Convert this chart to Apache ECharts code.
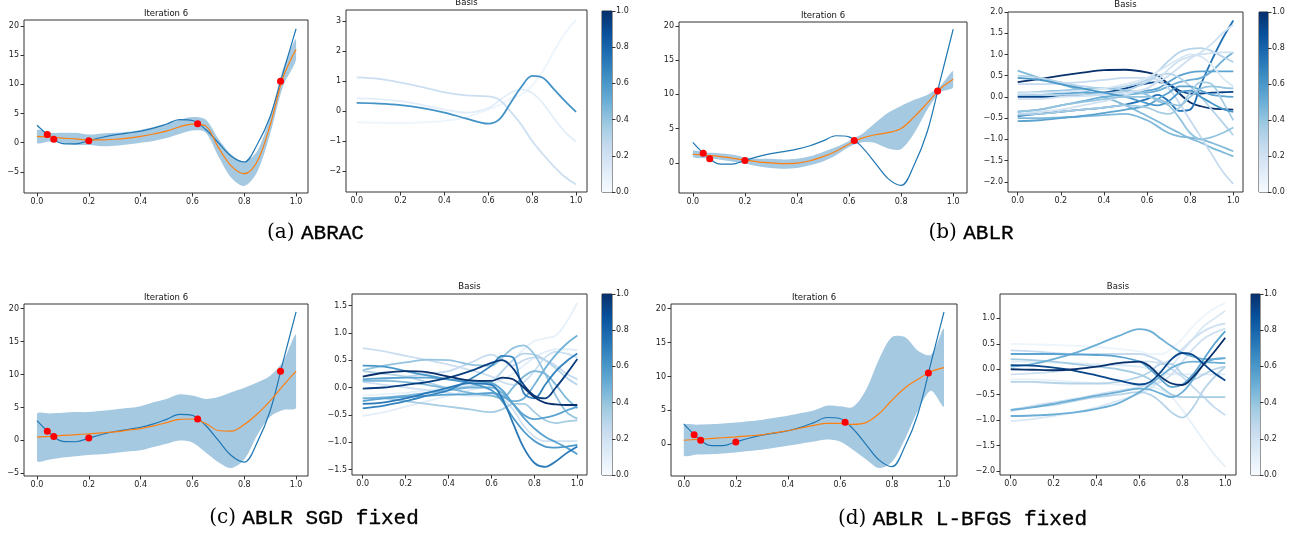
<!DOCTYPE html>
<html>
<head>
<meta charset="utf-8">
<script src="https://cdn.jsdelivr.net/npm/echarts@6/dist/echarts.min.js"></script>
<style>
  html, body { margin: 0; padding: 0; background: #fff; }
  #main { width: 1299px; height: 537px; }
</style>
</head>
<body>
<div id="main"></div>
<script>
// ---- data ----
const xFine = [0, 0.05, 0.1, 0.15, 0.2, 0.25, 0.3, 0.35, 0.4, 0.45, 0.5, 0.55, 0.6, 0.65, 0.7, 0.75, 0.8, 0.85, 0.9, 0.95, 1.0];
const truthY = [3.0, 1.1, -0.15, -0.2, 0.35, 0.9, 1.35, 1.65, 2.0, 2.5, 3.2, 3.95, 3.8, 2.3, 0.0, -2.3, -3.3, -0.3, 4.5, 12.0, 19.5];
const obsX = [0.04, 0.065, 0.2, 0.62, 0.94];
const obsY = [1.4, 0.6, 0.35, 3.25, 10.5];

// (a) ABRAC
const meanA = [1.1, 0.95, 0.8, 0.65, 0.5, 0.5, 0.6, 0.8, 1.1, 1.5, 2.0, 2.7, 3.2, 2.9, -0.8, -4.0, -5.3, -3.2, 3.0, 11.2, 16.0];
const lowA = [-0.05, 0.2, -0.1, -0.4, -0.4, -0.6, -0.5, -0.3, 0.0, 0.3, 0.8, 1.5, 2.1, 1.8, -2.3, -6.0, -7.4, -5.0, 1.5, 9.7, 14.2];
const highA = [2.2, 1.7, 1.7, 1.7, 1.4, 1.6, 1.7, 1.9, 2.2, 2.7, 3.2, 3.9, 4.4, 4.0, 0.7, -2.0, -3.2, -1.4, 4.5, 12.7, 17.8];
// (b) ABLR
const meanB = [1.25, 1.1, 0.95, 0.7, 0.4, 0.15, 0.0, -0.12, -0.05, 0.3, 0.9, 1.7, 2.75, 3.6, 4.1, 4.4, 5.0, 6.7, 8.7, 10.8, 12.2];
const lowB = [0.8, 0.7, 0.5, 0.2, -0.1, -0.5, -0.75, -0.85, -0.75, -0.35, 0.2, 1.1, 2.3, 3.0, 2.9, 2.1, 2.0, 4.3, 7.7, 10.3, 11.0];
const highB = [1.75, 1.5, 1.4, 1.2, 0.8, 0.6, 0.6, 0.5, 0.6, 0.95, 1.6, 2.3, 3.2, 4.2, 5.8, 7.3, 8.3, 9.2, 9.9, 11.2, 13.4];
// (c) ABLR SGD fixed
const meanC = [0.5, 0.62, 0.75, 0.88, 1.0, 1.15, 1.3, 1.55, 1.8, 2.2, 2.7, 3.2, 3.25, 2.6, 1.5, 1.4, 2.4, 4.0, 6.0, 8.3, 10.5];
const lowC = [-3.1, -2.9, -2.6, -2.4, -2.2, -2.1, -1.9, -1.7, -1.5, -1.0, -0.5, 0.0, -0.3, -1.8, -3.3, -4.2, -2.9, 0.8, 3.6, 4.6, 5.0];
const highC = [4.0, 4.1, 4.2, 4.3, 4.3, 4.5, 4.7, 4.9, 5.2, 5.8, 6.3, 7.0, 6.8, 6.3, 6.6, 7.3, 8.0, 8.8, 9.8, 12.0, 16.0];
// (d) ABLR L-BFGS fixed
const meanD = [0.6, 0.72, 0.85, 0.97, 1.1, 1.25, 1.4, 1.7, 2.0, 2.4, 2.8, 3.1, 3.1, 2.95, 3.2, 4.5, 6.5, 8.3, 9.6, 10.7, 11.3];
const lowD = [-1.6, -1.5, -1.45, -1.35, -1.2, -1.0, -0.8, -0.5, -0.2, 0.1, 0.4, 0.7, 0.4, -0.8, -2.2, -3.5, -2.6, 0.8, 5.0, 7.9, 5.6];
const highD = [2.8, 2.9, 2.95, 3.05, 3.2, 3.4, 3.6, 3.9, 4.2, 4.6, 5.0, 5.7, 5.6, 5.5, 8.0, 12.5, 15.8, 15.8, 13.8, 13.2, 17.0];

// basis functions, each with its colour weight
const xBasis = [0, 0.1, 0.2, 0.3, 0.4, 0.5, 0.6, 0.65, 0.7, 0.75, 0.8, 0.85, 0.9, 0.95, 1.0];
const weightsA = [0.05, 0.1, 0.22, 0.62];
const basisA = [
  [-0.38, -0.39, -0.4, -0.38, -0.33, -0.2, 0.05, 0.2, 0.4, 0.55, 0.85, 1.35, 2.0, 2.6, 3.05],
  [0.42, 0.4, 0.33, 0.2, 0.05, -0.05, 0.1, 0.35, 0.6, 0.72, 0.6, 0.25, -0.25, -0.7, -1.02],
  [1.12, 1.07, 0.95, 0.8, 0.62, 0.52, 0.49, 0.38, 0.0, -0.45, -1.0, -1.45, -1.85, -2.2, -2.45],
  [0.27, 0.25, 0.2, 0.1, -0.05, -0.25, -0.42, -0.28, 0.25, 0.8, 1.17, 1.1, 0.72, 0.33, -0.03]
];
const weightsB = [1.0, 0.92, 0.75, 0.45, 0.45, 0.5, 0.55, 0.3, 0.2, 0.25, 0.3, 0.55, 0.4, 0.15, 0.35, 0.2, 0.6, 0.4];
const basisB = [
  [0.35, 0.42, 0.5, 0.57, 0.63, 0.64, 0.58, 0.5, 0.3, 0.08, -0.13, -0.22, -0.27, -0.29, -0.3],
  [0.0, 0.0, 0.02, 0.05, 0.1, 0.2, 0.32, 0.35, 0.3, 0.15, 0.08, 0.08, 0.1, 0.11, 0.12],
  [-0.45, -0.4, -0.35, -0.3, -0.25, -0.18, -0.05, 0.05, -0.1, -0.33, -0.3, 0.3, 0.86, 1.37, 1.8],
  [0.62, 0.45, 0.3, 0.15, 0.0, -0.2, -0.45, -0.58, -0.72, -0.85, -0.98, -1.08, -1.2, -1.3, -1.4],
  [-0.5, -0.5, -0.48, -0.46, -0.43, -0.4, -0.55, -0.7, -0.85, -0.93, -0.96, -1.0, -1.08, -1.18, -1.28],
  [-0.35, -0.3, -0.2, -0.1, 0.0, 0.05, 0.1, 0.15, 0.25, 0.35, 0.4, 0.45, 0.6, 0.85, 1.05],
  [0.05, 0.05, 0.08, 0.1, 0.1, 0.12, 0.15, 0.2, 0.35, 0.5, 0.58, 0.6, 0.6, 0.6, 0.6],
  [0.5, 0.45, 0.35, 0.25, 0.2, 0.25, 0.4, 0.6, 0.85, 1.05, 1.13, 1.15, 1.08, 0.95, 0.82],
  [-0.4, -0.35, -0.3, -0.2, -0.1, 0.05, 0.2, 0.35, 0.5, 0.7, 0.9, 1.05, 1.25, 1.5, 1.7],
  [0.3, 0.3, 0.32, 0.35, 0.4, 0.45, 0.45, 0.4, 0.2, -0.15, -0.55, -0.95, -1.35, -1.75, -2.05],
  [0.05, 0.05, 0.05, 0.05, 0.08, 0.15, 0.35, 0.5, 0.55, 0.45, 0.25, 0.0, -0.3, -0.6, -0.9],
  [-0.57, -0.55, -0.5, -0.45, -0.38, -0.3, -0.2, -0.05, 0.1, 0.25, 0.25, 0.15, 0.05, 0.02, 0.0],
  [0.1, 0.12, 0.15, 0.18, 0.2, 0.15, 0.05, -0.1, -0.2, -0.5, -0.85, -1.0, -0.95, -0.85, -0.72],
  [0.08, 0.1, 0.12, 0.15, 0.2, 0.3, 0.45, 0.6, 0.75, 0.9, 1.0, 0.95, 0.75, 0.45, 0.25],
  [-0.42, -0.4, -0.35, -0.3, -0.25, -0.2, -0.25, -0.35, -0.4, -0.25, 0.1, 0.35, 0.3, -0.1, -0.55],
  [-0.05, -0.05, 0.0, 0.02, 0.05, 0.1, 0.2, 0.4, 0.65, 0.85, 0.95, 1.0, 1.03, 1.05, 1.05],
  [0.45, 0.4, 0.3, 0.2, 0.1, 0.0, -0.15, -0.2, -0.1, 0.1, 0.15, 0.0, -0.15, -0.28, -0.35],
  [-0.35, -0.3, -0.2, -0.12, -0.05, 0.0, 0.0, -0.05, -0.15, -0.2, 0.0, 0.2, 0.25, 0.22, 0.2]
];
const weightsC = [0.08, 0.1, 0.2, 0.22, 0.25, 0.3, 0.35, 0.4, 0.45, 0.48, 0.55, 0.55, 0.6, 0.68, 0.72, 0.95, 1.0];
const basisC = [
  [-0.15, -0.12, -0.1, -0.05, 0.0, 0.05, 0.15, 0.3, 0.5, 0.7, 0.85, 0.9, 0.95, 1.2, 1.55],
  [-0.52, -0.45, -0.35, -0.25, -0.15, -0.05, 0.05, 0.15, 0.25, 0.4, 0.55, 0.65, 0.7, 0.7, 0.68],
  [0.1, 0.05, 0.0, -0.05, -0.1, -0.15, -0.15, -0.2, -0.4, -0.7, -0.9, -0.98, -0.98, -0.98, -0.98],
  [0.72, 0.66, 0.58, 0.5, 0.42, 0.32, 0.2, 0.1, 0.05, 0.1, 0.3, 0.55, 0.65, 0.62, 0.55],
  [0.1, 0.15, 0.2, 0.25, 0.3, 0.45, 0.6, 0.5, 0.4, 0.5, 0.55, 0.5, 0.4, 0.25, 0.15],
  [0.3, 0.25, 0.2, 0.1, 0.0, 0.02, 0.1, 0.3, 0.5, 0.62, 0.6, 0.5, 0.35, 0.18, 0.05],
  [-0.2, -0.2, -0.25, -0.3, -0.35, -0.4, -0.45, -0.4, -0.3, -0.3, -0.45, -0.6, -0.65, -0.62, -0.6],
  [0.32, 0.4, 0.46, 0.51, 0.5, 0.42, 0.4, 0.55, 0.72, 0.77, 0.6, 0.25, -0.15, -0.45, -0.57],
  [0.12, 0.12, 0.1, 0.05, -0.02, -0.1, -0.15, -0.2, 0.0, 0.2, 0.3, 0.25, 0.05, -0.2, -0.38],
  [-0.2, -0.18, -0.15, -0.1, -0.05, 0.0, 0.0, -0.1, -0.25, -0.2, 0.05, 0.35, 0.6, 0.8, 0.95],
  [-0.25, -0.2, -0.17, -0.15, -0.13, -0.12, -0.1, -0.15, -0.3, -0.5, -0.58, -0.55, -0.5, -0.42, -0.35],
  [0.15, 0.17, 0.18, 0.18, 0.15, 0.12, 0.08, -0.05, -0.3, -0.55, -0.75, -0.9, -1.0, -1.1, -1.22],
  [0.4, 0.38, 0.3, 0.22, 0.15, 0.08, -0.05, -0.25, -0.55, -0.8, -0.98, -1.08, -1.1, -1.08, -1.05],
  [-0.38, -0.33, -0.25, -0.15, -0.05, 0.15, 0.4, 0.58, 0.55, -0.1, -0.2, 0.05, 0.3, 0.48, 0.62],
  [-0.3, -0.27, -0.2, -0.1, 0.0, 0.08, 0.05, -0.2, -0.65, -1.1, -1.38, -1.45, -1.35, -1.2, -1.08],
  [-0.02, 0.0, 0.05, 0.1, 0.18, 0.3, 0.45, 0.5, 0.35, 0.05, -0.15, -0.2, 0.0, 0.25, 0.52],
  [0.2, 0.27, 0.3, 0.28, 0.2, 0.13, 0.12, 0.18, 0.15, 0.0, -0.18, -0.28, -0.31, -0.32, -0.32]
];
const weightsD = [0.05, 0.08, 0.12, 0.15, 0.2, 0.2, 0.25, 0.3, 0.3, 0.35, 0.5, 0.5, 0.55, 0.5, 0.92, 1.0];
const basisD = [
  [0.5, 0.49, 0.48, 0.46, 0.44, 0.4, 0.35, 0.3, 0.3, 0.4, 0.6, 0.85, 1.05, 1.2, 1.3],
  [-0.2, -0.2, -0.22, -0.25, -0.28, -0.3, -0.32, -0.35, -0.4, -0.55, -0.8, -1.1, -1.4, -1.68, -1.92],
  [0.15, 0.15, 0.13, 0.12, 0.1, 0.08, 0.05, 0.0, -0.05, -0.1, -0.1, -0.1, -0.1, -0.1, -0.1],
  [-1.02, -0.98, -0.92, -0.85, -0.75, -0.62, -0.48, -0.38, -0.2, 0.05, 0.35, 0.6, 0.85, 1.0, 1.15],
  [-0.8, -0.72, -0.65, -0.58, -0.5, -0.42, -0.35, -0.3, -0.25, -0.1, 0.15, 0.4, 0.6, 0.72, 0.8],
  [-0.1, -0.08, -0.05, 0.0, 0.05, 0.1, 0.15, 0.15, 0.12, 0.2, 0.4, 0.6, 0.75, 0.85, 0.9],
  [0.37, 0.35, 0.32, 0.3, 0.3, 0.3, 0.3, 0.25, 0.15, 0.0, -0.15, -0.35, -0.55, -0.75, -0.9],
  [-0.82, -0.75, -0.7, -0.62, -0.55, -0.5, -0.45, -0.5, -0.65, -0.85, -0.95, -0.75, -0.4, -0.15, 0.05],
  [-0.25, -0.25, -0.27, -0.28, -0.28, -0.25, -0.15, -0.05, 0.1, 0.1, -0.1, -0.2, -0.1, 0.0, 0.05],
  [0.2, 0.18, 0.15, 0.1, 0.05, 0.0, -0.1, -0.2, -0.35, -0.5, -0.55, -0.55, -0.55, -0.55, -0.55],
  [0.05, 0.1, 0.2, 0.32, 0.48, 0.65, 0.79, 0.75, 0.6, 0.45, 0.32, 0.25, 0.2, 0.2, 0.22],
  [-0.92, -0.91, -0.89, -0.85, -0.78, -0.67, -0.45, -0.3, -0.13, 0.03, 0.12, 0.15, 0.14, 0.13, 0.12],
  [0.3, 0.3, 0.3, 0.29, 0.28, 0.25, 0.15, 0.0, -0.2, -0.35, -0.3, -0.1, 0.2, 0.5, 0.75],
  [-0.8, -0.75, -0.68, -0.6, -0.52, -0.45, -0.38, -0.4, -0.48, -0.55, -0.45, -0.2, 0.1, 0.2, 0.22],
  [0.08, 0.07, 0.03, -0.03, -0.12, -0.22, -0.3, -0.25, -0.05, 0.2, 0.32, 0.28, 0.1, -0.08, -0.22],
  [0.0, -0.01, -0.02, 0.0, 0.05, 0.12, 0.15, 0.05, -0.15, -0.28, -0.31, -0.15, 0.1, 0.35, 0.62]
];

const xTicks = [0, 0.2, 0.4, 0.6, 0.8, 1.0];
const yTicksIter = [-5, 0, 5, 10, 15, 20];
const yTicksIterB = [0, 5, 10, 15, 20];
const yTicksBasisA = [-2, -1, 0, 1, 2, 3];
const yTicksBasisB = [-2, -1.5, -1, -0.5, 0, 0.5, 1, 1.5, 2];
const yTicksBasisC = [-1.5, -1, -0.5, 0, 0.5, 1, 1.5];
const yTicksBasisD = [-2, -1.5, -1, -0.5, 0, 0.5, 1];
const cbarTicks = [0, 0.2, 0.4, 0.6, 0.8, 1.0];
const captionTags = ['(a)', '(b)', '(c)', '(d)'];
const captionNames = ['ABRAC', 'ABLR', 'ABLR SGD fixed', 'ABLR L-BFGS fixed'];

// ---- helpers ----
const BLUES = ['#f7fbff', '#deebf7', '#c6dbef', '#9ecae1', '#6baed6', '#4292c6', '#2171b5', '#08519c', '#08306b'];
function hex2rgb(h) { return [1, 3, 5].map(i => parseInt(h.substr(i, 2), 16)); }
function blues(t) {
  const p = Math.max(0, Math.min(1, t)) * (BLUES.length - 1);
  const i = Math.min(Math.floor(p), BLUES.length - 2);
  const f = p - i;
  const a = hex2rgb(BLUES[i]), b = hex2rgb(BLUES[i + 1]);
  const c = a.map((v, k) => Math.round(v + (b[k] - v) * f));
  return 'rgb(' + c.join(',') + ')';
}
function fmt(v, d) {
  const s = Math.abs(v).toFixed(d);
  return (v < -1e-9 ? '\u2212' : '') + s;
}

const FONT = 'DejaVu Sans';
const AX = '#333';
const grids = [], xAxes = [], yAxes = [], series = [], graphics = [];

function addGrid(box, xr, yr, yTicks, yDec) {
  const i = grids.length;
  grids.push({ left: box[0], top: box[1], width: box[2], height: box[3], show: true,
    borderColor: AX, borderWidth: 1, backgroundColor: 'transparent' });
  xAxes.push({ gridIndex: i, type: 'value', min: xr[0], max: xr[1],
    axisLine: { show: false, onZero: false }, splitLine: { show: false },
    axisTick: { show: true, length: 3.5, customValues: xTicks, lineStyle: { color: AX } },
    axisLabel: { customValues: xTicks, formatter: v => fmt(v, 1), fontSize: 8, color: '#222', margin: 5, fontFamily: FONT } });
  yAxes.push({ gridIndex: i, type: 'value', min: yr[0], max: yr[1],
    axisLine: { show: false, onZero: false }, splitLine: { show: false },
    axisTick: { show: true, length: 3.5, customValues: yTicks, lineStyle: { color: AX } },
    axisLabel: { customValues: yTicks, formatter: v => fmt(v, yDec), fontSize: 8, color: '#222', margin: 5, fontFamily: FONT } });
  return i;
}

function addColorbar(box) {
  const i = grids.length;
  grids.push({ left: box[0], top: box[1], width: box[2], height: box[3], show: true,
    borderColor: AX, borderWidth: 1, backgroundColor: 'transparent' });
  xAxes.push({ gridIndex: i, type: 'category', data: ['c'], show: false });
  yAxes.push({ gridIndex: i, type: 'value', min: 0, max: 1, position: 'right',
    axisLine: { show: false, onZero: false }, splitLine: { show: false },
    axisTick: { show: true, length: 3.5, customValues: cbarTicks, lineStyle: { color: AX } },
    axisLabel: { customValues: cbarTicks, formatter: v => fmt(v, 1), fontSize: 8, color: '#222', margin: 4, fontFamily: FONT } });
  const stops = BLUES.slice().reverse().map((c, k) => ({ offset: k / (BLUES.length - 1), color: c }));
  series.push({ type: 'bar', xAxisIndex: i, yAxisIndex: i, data: [1], barWidth: '100%', silent: true,
    itemStyle: { color: { type: 'linear', x: 0, y: 0, x2: 0, y2: 1, colorStops: stops } } });
}

// confidence band: one filled polygon, corners placed through the axis scales
function bandSeries(i, low, high) {
  return {
    type: 'custom', xAxisIndex: i, yAxisIndex: i, silent: true, clip: true,
    encode: { x: 0, y: [1, 2] },
    data: xFine.map((x, k) => [x, low[k], high[k]]),
    renderItem: function (params, api) {
      if (params.dataIndex !== 0) return null;
      const top = xFine.map((x, k) => api.coord([x, high[k]]));
      const bot = xFine.map((x, k) => api.coord([x, low[k]])).reverse();
      const pts = top.concat(bot);
      const xs = pts.map(p => p[0]), ys = pts.map(p => p[1]);
      return {
        type: 'polygon',
        shape: { points: pts, smooth: 0.3,
          smoothConstraint: [[Math.min.apply(null, xs), Math.min.apply(null, ys) - 40],
                             [Math.max.apply(null, xs), Math.max.apply(null, ys) + 40]] },
        style: { fill: '#a6c9e2' }
      };
    }
  };
}

function addIteration(key, box, xr, yr, yTicks, mean, low, high) {
  const i = addGrid(box, xr, yr, yTicks, 0);
  const common = { xAxisIndex: i, yAxisIndex: i, symbol: 'none', smooth: 0.35, silent: true };
  series.push(bandSeries(i, low, high));
  series.push(Object.assign({ type: 'line', data: xFine.map((x, k) => [x, truthY[k]]),
    lineStyle: { color: '#1f77b4', width: 1.2 } }, common));
  series.push(Object.assign({ type: 'line', data: xFine.map((x, k) => [x, mean[k]]),
    lineStyle: { color: '#ff7f0e', width: 1.2 } }, common));
  series.push({ type: 'scatter', xAxisIndex: i, yAxisIndex: i, silent: true, symbolSize: 7, z: 5,
    data: obsX.map((x, k) => [x, obsY[k]]), itemStyle: { color: '#ff0000', opacity: 1 } });
  graphics.push(titleText('Iteration 6', box[0] + box[2] / 2, box[1] - 6.5));
}

function addBasis(box, xr, yr, yTicks, yDec, lines, weights) {
  const i = addGrid(box, xr, yr, yTicks, yDec);
  lines.forEach((vals, j) => {
    series.push({ type: 'line', xAxisIndex: i, yAxisIndex: i, symbol: 'none', smooth: 0.35, silent: true,
      data: xBasis.map((x, k) => [x, vals[k]]),
      lineStyle: { color: blues(weights[j]), width: 1.8 } });
  });
  graphics.push(titleText('Basis', box[0] + box[2] / 2, box[1] - 7.5));
}

function titleText(t, x, y) {
  return { type: 'text', silent: true, style: { text: t, x: x, y: y, fill: '#111',
    font: '8.5px "DejaVu Sans"', align: 'center', verticalAlign: 'middle',
    textAlign: 'center', textVerticalAlign: 'middle' } };
}

function caption(k, x, y) {
  return { type: 'text', silent: true, style: {
    text: '{s|' + captionTags[k] + ' }{m|' + captionNames[k] + '}', x: x, y: y,
    align: 'center', verticalAlign: 'middle', textAlign: 'center', textVerticalAlign: 'middle',
    rich: { s: { fontFamily: 'DejaVu Serif', fontSize: 20, fill: '#000' },
            m: { fontFamily: 'Liberation Mono', fontSize: 21, fill: '#000',
                 stroke: '#000', lineWidth: 0.35 } } } };
}

// ---- panels ----
addIteration('a', [24, 20, 284, 173], [-0.05, 1.046], [-8.6, 21], yTicksIter, meanA, lowA, highA);
addBasis([346, 10, 241, 182], [-0.049, 1.05], [-2.7, 3.37], yTicksBasisA, 0, basisA, weightsA);
addColorbar([602, 11, 10, 181]);

addIteration('b', [679, 22, 288, 171], [-0.053, 1.053], [-4.4, 20.55], yTicksIterB, meanB, lowB, highB);
addBasis([1008, 12, 235, 180], [-0.045, 1.045], [-2.24, 2.0], yTicksBasisB, 1, basisB, weightsB);
addColorbar([1259, 12, 9, 180]);

addIteration('c', [24, 304, 284, 172], [-0.05, 1.046], [-5.4, 20.7], yTicksIter, meanC, lowC, highC);
addBasis([352, 294, 235, 181], [-0.05, 1.045], [-1.6, 1.71], yTicksBasisC, 1, basisC, weightsC);
addColorbar([602, 294, 10, 181]);

addIteration('d', [671, 304, 286, 172], [-0.049, 1.05], [-4.67, 20.68], yTicksIterB, meanD, lowD, highD);
addBasis([1000, 294, 236, 181], [-0.05, 1.05], [-2.08, 1.48], yTicksBasisD, 1, basisD, weightsD);
addColorbar([1251, 294, 9, 181]);

graphics.push(caption(0, 315.5, 233));
graphics.push(caption(1, 971, 233));
graphics.push(caption(2, 314, 518));
graphics.push(caption(3, 962.5, 519));

const chart = echarts.init(document.getElementById('main'), null, { renderer: 'canvas' });
chart.setOption({
  animation: false,
  backgroundColor: '#fff',
  grid: grids,
  xAxis: xAxes,
  yAxis: yAxes,
  series: series,
  graphic: { elements: graphics }
});
</script>
</body>
</html>
